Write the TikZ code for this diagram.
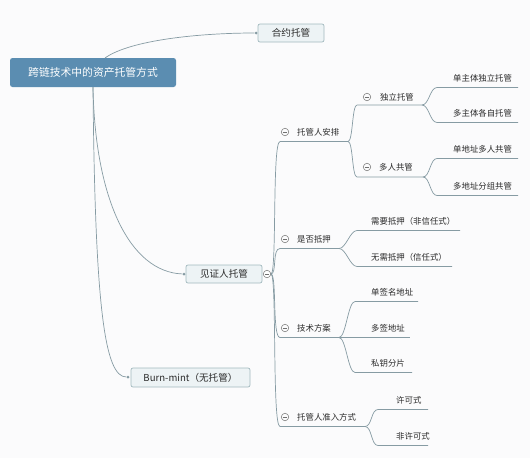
\documentclass[tikz,border=0pt]{standalone}
\usepackage{fontspec}
\setmainfont{Noto Sans CJK SC}
\definecolor{ln}{HTML}{869BA3}
\definecolor{txt}{HTML}{2A2A2A}
\definecolor{boxf}{HTML}{EDF3F5}
\definecolor{boxb}{HTML}{A2BABF}
\definecolor{rootf}{HTML}{5B8DB1}
\definecolor{mg}{HTML}{707070}
\definecolor{bg}{HTML}{FBFBFC}
\tikzset{
 every node/.style={font=\fontsize{8.4}{10}\selectfont, text=txt, inner sep=0pt},
 br/.style={draw=ln, line width=0.7pt},
 box/.style={draw=boxb, fill=boxf, rounded corners=2pt, line width=0.7pt, font=\fontsize{9.6}{11}\selectfont},
 rootbox/.style={fill=rootf, rounded corners=2.5pt, text=white, font=\fontsize{10.8}{12}\selectfont},
 lbl/.style={anchor=west},
 minus/.style={circle, draw=mg, line width=0.5pt, minimum size=7.5pt,
   path picture={\draw[mg,line width=0.5pt] ([xshift=-2.2pt]path picture bounding box.center) -- ([xshift=2.2pt]path picture bounding box.center);}},
 dot/.style={circle, fill=ln, inner sep=0pt, minimum size=3pt},
}
\begin{document}
\begin{tikzpicture}[x=1pt,y=-1pt]
\fill[bg] (0,0) rectangle (530,458);
\useasboundingbox (0,0) rectangle (530,458);

% main boxes
\node[rootbox, minimum width=166pt, minimum height=29pt] (root) at (93,72.5) {跨链技术中的资产托管方式};
\node[box, minimum width=66pt, minimum height=18pt] (hy) at (291,33) {合约托管};
\node[box, minimum width=76pt, minimum height=18pt] (jz) at (224,274) {见证人托管};
\node[box, minimum width=119pt, minimum height=19pt] (bm) at (190.5,377.5) {Burn-mint（无托管）};
\node[minus, fill=white] (jzc) at (267,274) {};

\node[dot] (hyd) at (256,33) {};
\node[dot] (jzd) at (184,274) {};
\node[dot] (bmd) at (128,377) {};
\coordinate (rt) at (105,58);
\coordinate (rb) at (93,87);

\draw[br] (rt) .. controls (130,40) and (200,33) .. (hyd);
\draw[br] (rb) .. controls (95,200) and (130,272) .. (jzd);
\draw[br] (rb) .. controls (95,310) and (105,377) .. (bmd);

% level 2
\foreach \n/\t/\y/\e in {A/托管人安排/132/348, B/是否抵押/239/339, C/技术方案/328/339, D/托管人准入方式/417/365}{
  \node[minus] (\n m) at (285,\y) {};
  \node[lbl] (\n) at (297,\y) {\t};
  \coordinate (\n s) at (280,\y+9.5);
  \coordinate (\n e) at (\e,\y+9.5);
  \draw[br] (jzc.east) .. controls +(6,0) and +(-8,0) .. (\n s) -- (\n e);
}

% level 3 with children
\node[minus] (A1m) at (367,97) {};
\node[lbl] (A1) at (380,97) {独立托管};
\coordinate (A1s) at (357,105); \coordinate (A1e) at (422,105);
\node[minus] (A2m) at (367,167) {};
\node[lbl] (A2) at (379,167) {多人共管};
\coordinate (A2s) at (357,177); \coordinate (A2e) at (423,177);
\foreach \c in {A1,A2}{
  \draw[br] (Ae) .. controls +(5,0) and +(-5,0) .. (\c s) -- (\c e);
}

% leaves
\foreach \p/\n/\t/\x/\y/\s/\e in {
  A1/A11/单主体独立托管/453/78/437/518,
  A1/A12/多主体各自托管/453/113/437/518,
  A2/A21/单地址多人共管/453/149/437/518,
  A2/A22/多地址分组共管/453/186/437/518,
  B/B1/需要抵押（非信任式）/371/221/357/460,
  B/B2/无需抵押（信任式）/371/257/357/452,
  C/C1/单签名地址/371/292/355/418,
  C/C2/多签地址/371/328/355/410,
  C/C3/私钥分片/371/363/355/412,
  D/D1/许可式/396/400/378/428,
  D/D2/非许可式/396/436/378/428}{
  \node[lbl] (\n) at (\x,\y) {\t};
  \coordinate (\n s) at (\s,\y+9.5);
  \coordinate (\n e) at (\e,\y+9.5);
  \draw[br] (\p e) .. controls +(7,0) and +(-7,0) .. (\n s) -- (\n e);
}
\end{tikzpicture}
\end{document}
